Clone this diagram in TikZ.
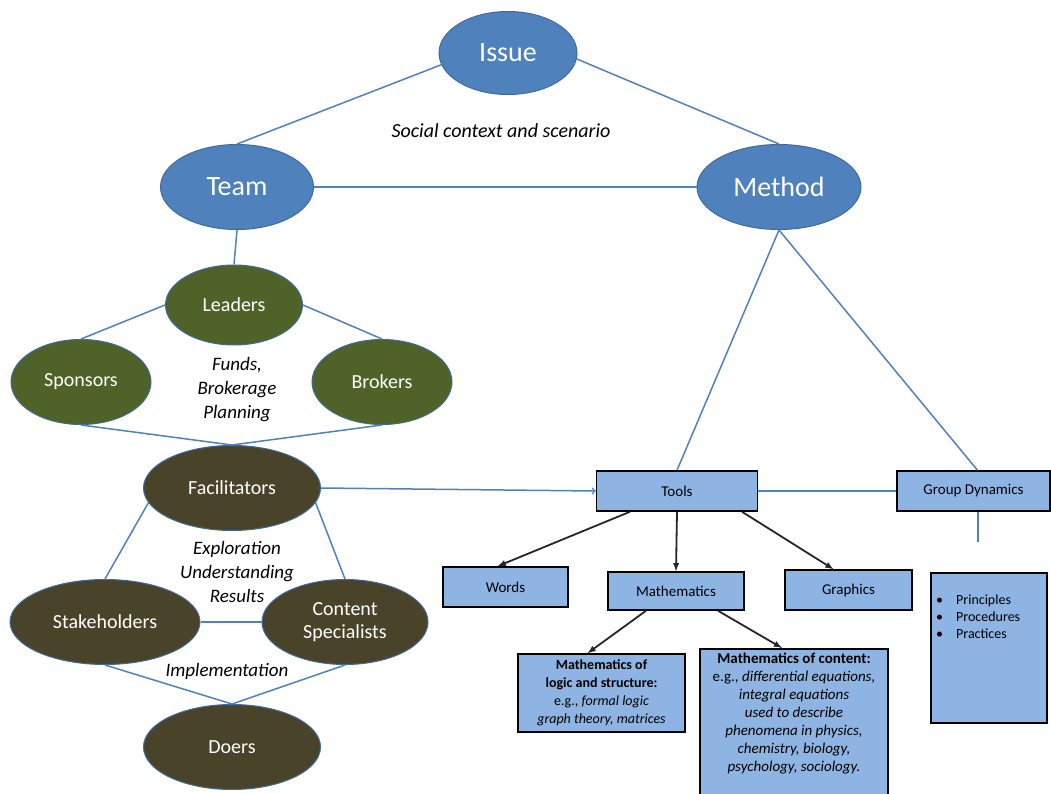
\documentclass[tikz,border=0pt]{standalone}
\usepackage{fontspec}
\setmainfont{Carlito}
\usetikzlibrary{shapes.geometric, arrows, positioning, calc}

\definecolor{issueblue}{HTML}{4F81BD}
\definecolor{edgeblue}{HTML}{3F6A9E}
\definecolor{rolegreen}{HTML}{4F6228}
\definecolor{actorbrown}{HTML}{494429}
\definecolor{toolblue}{HTML}{8DB4E2}

\begin{document}
\begin{tikzpicture}[
    x=1pt, y=-1pt,
    topic/.style={ellipse, draw=edgeblue, line width=1pt, fill=issueblue, text=white, inner sep=0pt, minimum height=85pt, font=\fontsize{28}{30}\selectfont},
    role/.style={ellipse, draw=edgeblue, line width=1pt, fill=rolegreen, text=white, inner sep=0pt, minimum width=140pt, minimum height=85pt, align=center, font=\fontsize{20}{23}\selectfont},
    actor/.style={role, fill=actorbrown},
    tool/.style={rectangle, draw=black, line width=1.5pt, fill=toolblue, inner sep=2pt, align=center, font=\fontsize{15}{17}\selectfont},
    link/.style={draw=issueblue, line width=1.5pt},
    flow/.style={draw=black!85, line width=1.8pt, -latex},
    note/.style={align=center, font=\fontsize{19}{24}\selectfont\itshape},
]
    \clip (0,0) rectangle (1051,794);

    % top triangle
    \node[topic, minimum width=138pt, minimum height=83pt] (issue) at (508,53) {Issue};
    \node[topic, minimum width=153pt] (team) at (237,187) {Team};
    \node[topic, minimum width=164pt] (method) at (779,187) {Method};
    \node[note, font=\fontsize{20}{22}\selectfont\itshape] (social) at (501,131) {Social context and scenario};

    % team side
    \node[role, minimum width=137pt, minimum height=80pt] (leaders) at (234,305) {Leaders};
    \node[role] (sponsors) at (81,382) {Sponsors};
    \node[role] (brokers) at (382,382) {Brokers};
    \node[note] (funds) at (237,390) {Funds,\\Brokerage\\Planning};
    \node[actor, minimum width=177pt] (facil) at (232,488) {Facilitators};
    \node[actor, minimum width=190pt] (stake) at (105,622) {Stakeholders};
    \node[actor, minimum width=166pt] (content) at (345,622) {Content\\Specialists};
    \node[note] (explore) at (237,572) {Exploration\\Understanding\\Results};
    \node[note] (impl) at (227,671) {Implementation};
    \node[actor, minimum width=177pt] (doers) at (232,747) {Doers};

    % method side
    \node[tool, minimum width=161pt, minimum height=40pt] (tools) at (677,491) {Tools};
    \node[tool, minimum width=153pt, minimum height=40pt] (gd) at (973.5,491) {Group Dynamics};
    \node[tool, minimum width=125pt, minimum height=40pt] (words) at (505.5,587) {Words};
    \node[tool, minimum width=136pt, minimum height=38pt] (maths) at (676,591) {Mathematics};
    \node[tool, minimum width=127pt, minimum height=40pt] (graphics) at (848.5,590) {Graphics};
    \node[tool, minimum width=167pt, minimum height=78pt, inner sep=1pt, font=\fontsize{14}{18}\selectfont] (logic) at (601.5,693)
        {\textbf{Mathematics of}\\\textbf{logic and structure:}\\e.g., \textit{formal logic}\\\textit{graph theory, matrices}};
    \node[tool, anchor=north, minimum width=188pt, minimum height=170pt] (mathcont) at (794,648) {};
    \node[anchor=north, align=center, inner sep=0pt, font=\fontsize{15}{18}\selectfont] (mathconttext) at ([yshift=-5pt]mathcont.north)
        {\textbf{Mathematics of content:}\\e.g., \textit{differential equations,}\\\textit{integral equations}\\\textit{used to describe}\\\textit{phenomena in physics,}\\\textit{chemistry, biology,}\\\textit{psychology, sociology.}};
    \node[tool, anchor=north west, minimum width=116pt, minimum height=150pt] (pract) at (930,572) {};
    \node[anchor=north west, align=left, inner sep=0pt, font=\fontsize{14}{17}\selectfont] (practlist) at ([xshift=6pt, yshift=-23pt]pract.north west)
        {\textbullet\hspace{13pt}Principles\\\textbullet\hspace{13pt}Procedures\\\textbullet\hspace{13pt}Practices};
    \coordinate[below=30pt of gd] (gdtail);

    % connectors
    \draw[link] (issue.190) -- (team.north);
    \draw[link] (issue.-5) -- (method.north);
    \draw[link] (team.east) -- (method.west);
    \draw[link] (team.south) -- (leaders.north);
    \draw[link] (leaders.west) -- (sponsors.north);
    \draw[link] (leaders.east) -- (brokers.north);
    \draw[link] (sponsors.south) -- (facil.north);
    \draw[link] (brokers.south) -- (facil.north);
    \draw[link] (facil.190) -- (stake.north);
    \draw[link] (facil.-10) -- (content.north);
    \draw[link] (stake.east) -- (content.west);
    \draw[link] (stake.south) -- (doers.north);
    \draw[link] (content.south) -- (doers.north);
    \draw[link, ->] (facil.east) -- (tools.west);
    \draw[link] (method.south) -- (tools.north);
    \draw[link] (method.south) -- ([xshift=4pt]gd.north);
    \draw[link] (tools.east) -- (gd.west);
    \draw[link] ([xshift=4.5pt]gd.south) -- ([xshift=4.5pt]gdtail);

    \draw[flow] ([xshift=-47pt]tools.south) -- ([xshift=-8pt]words.north);
    \draw[flow] (tools.south) -- (maths.north);
    \draw[flow] ([xshift=65pt]tools.south) -- ([xshift=-15pt]graphics.north);
    \draw[flow] ([xshift=-30pt]maths.south) -- ([xshift=-14pt]logic.north);
    \draw[flow] ([xshift=42pt]maths.south) -- ([xshift=-12pt]mathcont.north);
\end{tikzpicture}
\end{document}
